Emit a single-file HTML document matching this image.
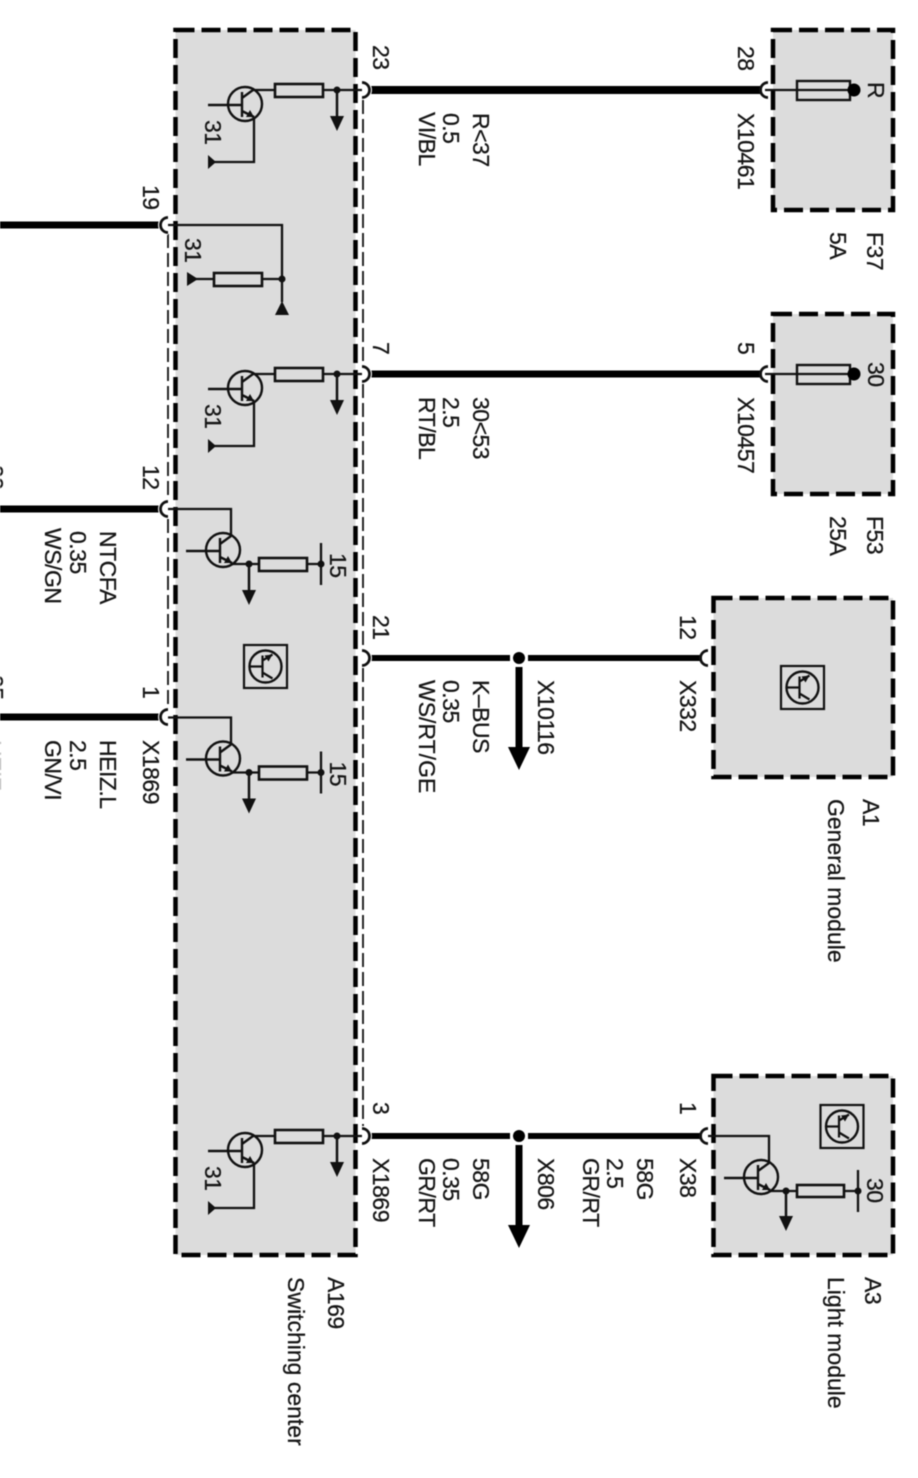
<!DOCTYPE html>
<html>
<head>
<meta charset="utf-8">
<style>
html,body{margin:0;padding:0;background:#fff;}
svg{display:block;filter:blur(0.4px);}
text{font-family:"Liberation Sans",sans-serif;font-size:23px;letter-spacing:-0.5px;fill:#151515;stroke:#151515;stroke-width:0.25px;}
text.n{letter-spacing:0;}
.box{fill:#dcdcdc;stroke:#000;stroke-width:4.5;stroke-dasharray:19 7;}
.thin{fill:none;stroke:#111;stroke-width:2.3;}
.wire{fill:none;stroke:#000;}
.dash{fill:none;stroke:#111;stroke-width:1.8;stroke-dasharray:14 5;}
.arc{fill:none;stroke:#111;stroke-width:2.8;}
.halo{fill:none;stroke:#fff;stroke-width:6;}
.res{fill:#dcdcdc;stroke:#111;stroke-width:2.6;}
</style>
</head>
<body>
<svg xmlns="http://www.w3.org/2000/svg" width="918" height="1478" viewBox="0 0 918 1478">
<defs>
  <g id="tr">
    <circle cx="0" cy="0" r="17" fill="none" stroke="#111" stroke-width="2.4"/>
    <path d="M-37 1H-3M-3 -12V13M-3 -6L8 -14M-3 7L9 13" fill="none" stroke="#111" stroke-width="2.4"/>
    <path d="M9 13L1 13L5 6Z" fill="#111"/>
  </g>
  <g id="icon">
    <rect x="-21.5" y="-21.5" width="43" height="43" fill="#dcdcdc" stroke="#111" stroke-width="2.2"/>
    <circle cx="0" cy="0" r="16" fill="none" stroke="#111" stroke-width="2.4"/>
    <path d="M-16 0H-3M-3 -11V11M-3 -6L7 -12M-3 6L7 12" fill="none" stroke="#111" stroke-width="2.2"/>
    <path d="M7 -12L-1 -11L3 -5Z" fill="#111"/>
  </g>
  <g id="rOut">
    <path d="M362 -7A7 7 0 0 1 362 7" class="halo"/>
    <path d="M362 -7.5A7.5 7.5 0 0 1 362 7.5" class="arc"/>
  </g>
  <g id="sw31">
    <use href="#tr" x="245" y="104"/>
    <path d="M253 90H362M254 117V162H212" class="thin"/>
    <rect x="275" y="84" width="48" height="13" class="res"/>
    <circle cx="337" cy="90" r="3.5" fill="#111"/>
    <path d="M337 90V117" stroke="#111" stroke-width="2.5"/>
    <path d="M330 116H344L337 131Z" fill="#111"/>
    <path d="M208 155V169L216 162Z" fill="#111"/>
    <text transform="translate(205,120) rotate(90)">31</text>
  </g>
  <g id="sw15">
    <use href="#tr" x="223" y="550"/>
    <path d="M168 509H231V536M232 564H321M321 543V585" class="thin"/>
    <rect x="259" y="558" width="48" height="13" class="res"/>
    <circle cx="249" cy="564" r="3.5" fill="#111"/>
    <circle cx="321" cy="564" r="3.5" fill="#111"/>
    <path d="M249 564V591" stroke="#111" stroke-width="2.5"/>
    <path d="M242 590H256L249 605Z" fill="#111"/>
    <text transform="translate(330,553) rotate(90)">15</text>
  </g>
</defs>

<rect x="0" y="0" width="918" height="1478" fill="#fff"/>

<!-- boxes -->
<rect class="box" x="175.5" y="30" width="180" height="1225"/>
<rect class="box" x="773" y="30" width="120" height="180"/>
<rect class="box" x="773" y="314" width="120" height="180"/>
<rect class="box" x="713.5" y="598" width="179.5" height="179"/>
<rect class="box" x="713.5" y="1076" width="179.5" height="179"/>

<!-- thin dashed secondary borders -->
<path class="dash" d="M363 100V364M363 384V648M363 668V1126"/>
<path class="dash" d="M168 234V499M168 519V707"/>

<!-- right wires -->
<path class="wire" stroke-width="8" d="M368 90H762"/>
<path class="wire" stroke-width="7" d="M368 374H762"/>
<path class="wire" stroke-width="6" d="M368 658H510M528 658H702"/>
<path class="wire" stroke-width="6" d="M368 1136H510M528 1136H702"/>
<!-- left wires -->
<path class="wire" stroke-width="7" d="M0 225H161"/>
<path class="wire" stroke-width="7" d="M0 509H161"/>
<path class="wire" stroke-width="7" d="M0 717H161"/>

<!-- A169 connectors -->
<use href="#rOut" y="90"/>
<use href="#rOut" y="374"/>
<use href="#rOut" y="658"/>
<use href="#rOut" y="1136"/>
<path class="halo" d="M168 218A7 7 0 0 0 168 232M168 502A7 7 0 0 0 168 516M168 710A7 7 0 0 0 168 724"/>
<path class="arc" d="M168 217.5A7.5 7.5 0 0 0 168 232.5M168 501.5A7.5 7.5 0 0 0 168 516.5M168 709.5A7.5 7.5 0 0 0 168 724.5"/>
<!-- far side connectors -->
<path class="arc" d="M768 82.5A7.5 7.5 0 0 0 768 97.5M768 366.5A7.5 7.5 0 0 0 768 381.5M708 650.5A7.5 7.5 0 0 0 708 665.5M708 1128.5A7.5 7.5 0 0 0 708 1143.5"/>

<!-- bus junctions -->
<circle cx="519" cy="658" r="6" fill="#000"/>
<path d="M519 667V750" stroke="#000" stroke-width="7"/>
<path d="M508 747H530L519 770Z" fill="#000"/>
<circle cx="519" cy="1136" r="6" fill="#000"/>
<path d="M519 1145V1228" stroke="#000" stroke-width="7"/>
<path d="M508 1225H530L519 1248Z" fill="#000"/>

<!-- A169 circuits -->
<use href="#sw31"/>
<use href="#sw31" y="284"/>
<use href="#sw31" y="1046"/>
<use href="#sw15"/>
<use href="#sw15" y="208.5"/>
<use href="#icon" x="265.5" y="666.5"/>

<!-- pin 19 circuit -->
<path class="thin" d="M168 225H282V302M192 279H282"/>
<rect x="214" y="273" width="48" height="13" class="res"/>
<circle cx="282" cy="279" r="3.5" fill="#111"/>
<path d="M187 272V286L198 279Z" fill="#111"/>
<path d="M282 301L275 315H289Z" fill="#111"/>
<text transform="translate(185,238) rotate(90)">31</text>

<!-- Fuses -->
<g id="fuse">
  <path d="M765 90H849" class="thin"/>
  <rect x="797" y="81" width="53" height="19" fill="none" stroke="#111" stroke-width="2.4"/>
  <circle cx="854" cy="90" r="6.5" fill="#000"/>
</g>
<use href="#fuse" y="284"/>

<!-- A1 / A3 icons -->
<use href="#icon" x="802.5" y="687.5"/>
<use href="#icon" x="842" y="1126.5"/>

<!-- A3 circuit -->
<use href="#tr" x="761" y="1177"/>
<path class="thin" d="M708 1136H769V1163M770 1191H858M858 1170V1212"/>
<rect x="797" y="1185" width="47" height="12" class="res"/>
<circle cx="786" cy="1191" r="3.5" fill="#111"/>
<circle cx="858" cy="1191" r="3.5" fill="#111"/>
<path d="M786 1191V1218" stroke="#111" stroke-width="2.5"/>
<path d="M779 1216H793L786 1231Z" fill="#111"/>

<!-- Labels -->
<text transform="translate(373,45) rotate(90)">23</text>
<text transform="translate(473,113) rotate(90)">R&lt;37</text>
<text transform="translate(443,113) rotate(90)">0.5</text>
<text transform="translate(419,112) rotate(90)">VI/BL</text>
<text transform="translate(738,46) rotate(90)">28</text>
<text transform="translate(738,113) rotate(90)">X10461</text>
<text transform="translate(868,82) rotate(90)">R</text>
<text transform="translate(867,232) rotate(90)">F37</text>
<text transform="translate(830,232) rotate(90)">5A</text>

<text transform="translate(143,185) rotate(90)">19</text>

<text transform="translate(373,342) rotate(90)">7</text>
<text transform="translate(473,397) rotate(90)">30&lt;53</text>
<text transform="translate(443,397) rotate(90)">2.5</text>
<text transform="translate(419,397) rotate(90)">RT/BL</text>
<text transform="translate(738,342) rotate(90)">5</text>
<text transform="translate(738,397) rotate(90)">X10457</text>
<text transform="translate(868,362) rotate(90)">30</text>
<text transform="translate(867,516) rotate(90)">F53</text>
<text transform="translate(830,516) rotate(90)">25A</text>

<text transform="translate(143,465) rotate(90)">12</text>
<text transform="translate(100,531) rotate(90)">NTCFA</text>
<text transform="translate(70,531) rotate(90)">0.35</text>
<text transform="translate(45,528) rotate(90)">WS/GN</text>
<text transform="translate(-13,465) rotate(90)">99</text>

<text transform="translate(143,686) rotate(90)">1</text>
<text transform="translate(143,740) rotate(90)">X1869</text>
<text transform="translate(100,740) rotate(90)">HEIZ.L</text>
<text transform="translate(70,740) rotate(90)">2.5</text>
<text transform="translate(45,740) rotate(90)">GN/VI</text>
<text transform="translate(-13,675) rotate(90)">95</text>
<text transform="translate(-15,740) rotate(90)" style="fill:#aaa;stroke:none">HEIZ</text>

<text transform="translate(373,615) rotate(90)">21</text>
<text transform="translate(473,680) rotate(90)">K–BUS</text>
<text transform="translate(443,680) rotate(90)">0.35</text>
<text class="n" transform="translate(419,680) rotate(90)">WS/RT/GE</text>
<text transform="translate(538,680) rotate(90)">X10116</text>
<text transform="translate(680,615) rotate(90)">12</text>
<text transform="translate(680,680) rotate(90)">X332</text>
<text transform="translate(863,799) rotate(90)">A1</text>
<text class="n" transform="translate(828,799) rotate(90)">General module</text>

<text transform="translate(373,1102) rotate(90)">3</text>
<text transform="translate(373,1158) rotate(90)">X1869</text>
<text transform="translate(473,1158) rotate(90)">58G</text>
<text transform="translate(443,1158) rotate(90)">0.35</text>
<text transform="translate(419,1158) rotate(90)">GR/RT</text>
<text transform="translate(538,1158) rotate(90)">X806</text>
<text transform="translate(680,1102) rotate(90)">1</text>
<text transform="translate(680,1158) rotate(90)">X38</text>
<text transform="translate(637,1158) rotate(90)">58G</text>
<text transform="translate(607,1158) rotate(90)">2.5</text>
<text transform="translate(583,1158) rotate(90)">GR/RT</text>
<text transform="translate(867,1178) rotate(90)">30</text>
<text transform="translate(865,1277) rotate(90)">A3</text>
<text class="n" transform="translate(828,1277) rotate(90)">Light module</text>
<text transform="translate(328,1277) rotate(90)">A169</text>
<text class="n" transform="translate(288,1277) rotate(90)">Switching center</text>
</svg>
</body>
</html>
